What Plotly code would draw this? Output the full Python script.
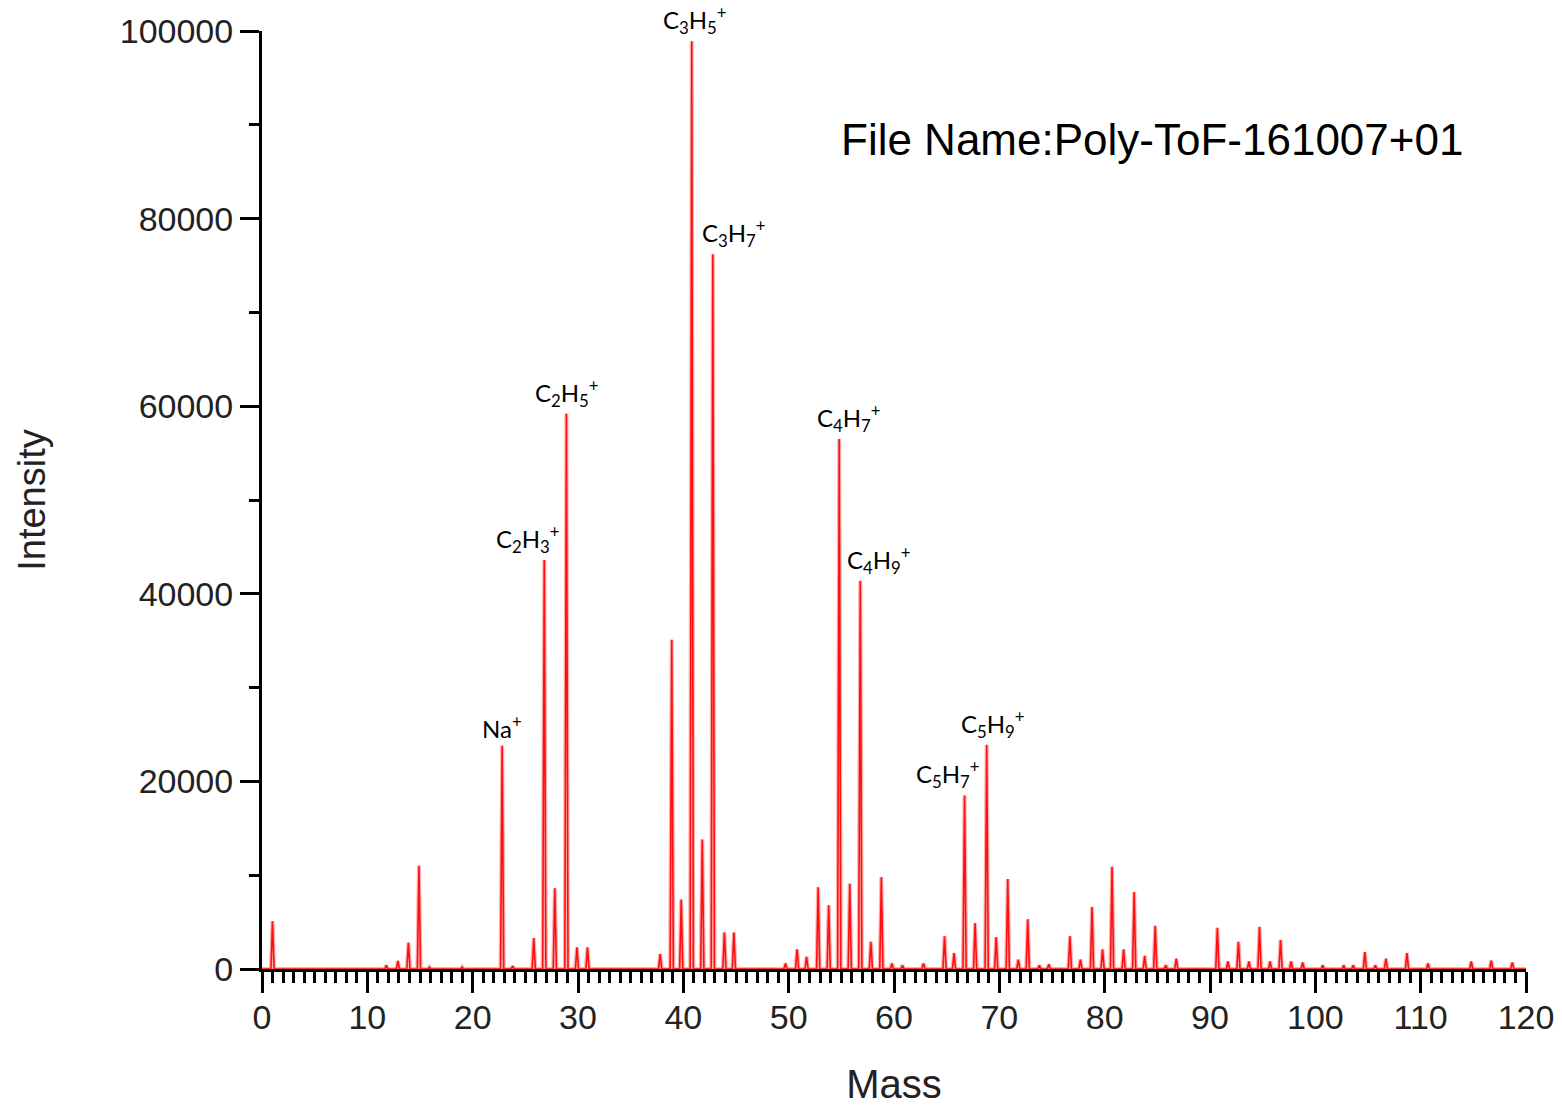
import plotly.graph_objects as go

# Peak positions (m/z as calibrated) and intensities of the ToF spectrum
masses = [1.0, 11.8, 12.9, 13.9, 14.9, 15.9, 19.0, 22.8, 23.8, 25.8, 26.8, 27.8, 28.9,
          29.9, 30.9, 37.8, 38.9, 39.8, 40.8, 41.8, 42.8, 43.9, 44.8, 49.7, 50.8, 51.7,
          52.8, 53.8, 54.8, 55.8, 56.8, 57.8, 58.8, 59.8, 60.8, 62.8, 64.8, 65.7, 66.7,
          67.7, 68.8, 69.7, 70.8, 71.8, 72.7, 73.8, 74.7, 76.7, 77.7, 78.8, 79.8, 80.7,
          81.8, 82.8, 83.8, 84.8, 85.8, 86.8, 90.7, 91.7, 92.7, 93.7, 94.7, 95.7, 96.7,
          97.7, 98.8, 100.7, 102.7, 103.6, 104.7, 105.7, 106.7, 108.7, 110.7, 114.8,
          116.7, 118.7]
intensities = [5100, 400, 850, 2800, 11000, 200, 200, 23800, 300, 3300, 43600, 8600, 59200,
               2300, 2300, 1600, 35100, 7400, 98900, 13800, 76200, 3900, 3900, 600, 2100, 1300,
               8700, 6800, 56500, 9100, 41400, 2900, 9800, 600, 400, 600, 3500, 1700, 18500,
               4900, 23900, 3400, 9600, 1000, 5300, 400, 500, 3500, 1000, 6600, 2100, 10900,
               2100, 8200, 1400, 4600, 400, 1100, 4400, 800, 2900, 800, 4500, 800, 3100,
               800, 700, 400, 400, 400, 1800, 400, 1100, 1700, 600, 800,
               900, 700]

# Assigned ions
ion_masses = [22.8, 26.8, 28.9, 40.8, 42.8, 54.8, 56.8, 66.7, 68.8]
ion_labels = ["Na<sup>+</sup>", "C<sub>2</sub>H<sub>3</sub><sup>+</sup>",
              "C<sub>2</sub>H<sub>5</sub><sup>+</sup>", "C<sub>3</sub>H<sub>5</sub><sup>+</sup>",
              "C<sub>3</sub>H<sub>7</sub><sup>+</sup>", "C<sub>4</sub>H<sub>7</sub><sup>+</sup>",
              "C<sub>4</sub>H<sub>9</sub><sup>+</sup>", "C<sub>5</sub>H<sub>7</sub><sup>+</sup>",
              "C<sub>5</sub>H<sub>9</sub><sup>+</sup>"]
label_xshift = [0, -16, 1, 3, 21, 10, 19, -17, 6]

file_label = "File Name:Poly-ToF-161007+01"

x_ticks = list(range(0, 121, 10))
y_ticks = list(range(0, 100001, 20000))

# Build a stick spectrum: narrow triangular peaks on a zero baseline
half_width = 0.15
xs, ys = [0.0], [0.0]
for m, h in zip(masses, intensities):
    xs += [m - half_width, m, m + half_width]
    ys += [0, h, 0]
xs.append(120.0)
ys.append(0.0)

fig = go.Figure()
fig.add_trace(go.Scatter(x=xs, y=ys, mode="lines",
                         line=dict(color="rgba(255,110,110,0.55)", width=4),
                         hoverinfo="skip", showlegend=False))
fig.add_trace(go.Scatter(x=xs, y=ys, mode="lines",
                         line=dict(color="#ff1010", width=1.6),
                         showlegend=False))

peak_of = dict(zip(masses, intensities))
for m, lab, dx in zip(ion_masses, ion_labels, label_xshift):
    fig.add_annotation(x=m, y=peak_of[m], text=lab, showarrow=False,
                       xanchor="center", yanchor="bottom", xshift=dx, yshift=1,
                       font=dict(family="Lato, Open Sans, sans-serif", size=24, color="black"))

fig.add_annotation(x=0.704, y=0.884, xref="paper", yref="paper", text=file_label,
                   showarrow=False, xanchor="center", yanchor="middle",
                   font=dict(family="Liberation Sans, Arial", size=44, color="black"))

axis_font = dict(family="Liberation Sans, Arial, sans-serif", size=34, color="#222")

fig.update_layout(
    width=1562, height=1112,
    margin=dict(l=262, r=36, t=31, b=143),
    plot_bgcolor="white", paper_bgcolor="white",
    xaxis=dict(range=[0, 120], tickvals=x_ticks, ticks="outside", ticklen=21, tickwidth=3,
               tickcolor="black", showline=True, linecolor="black", linewidth=3,
               showgrid=False, zeroline=False, tickfont=axis_font, automargin=False,
               ticklabelstandoff=-5,
               minor=dict(dtick=1, ticks="outside", ticklen=11, tickwidth=3, tickcolor="black"),
               title=dict(text="Mass", font=dict(family="Liberation Sans, Arial", size=40, color="#222"),
                          standoff=36)),
    yaxis=dict(range=[0, 100000], tickvals=y_ticks, tickformat="d", ticks="outside",
               ticklen=19, tickwidth=3, tickcolor="black", showline=True, linecolor="black",
               linewidth=3, showgrid=False, zeroline=False, tickfont=axis_font, automargin=False,
               minor=dict(dtick=10000, ticks="outside", ticklen=10, tickwidth=3, tickcolor="black"),
               title=dict(text="Intensity", font=dict(family="Liberation Sans, Arial", size=38, color="#222"),
                          standoff=63)),
)

fig.write_html("out.html")
